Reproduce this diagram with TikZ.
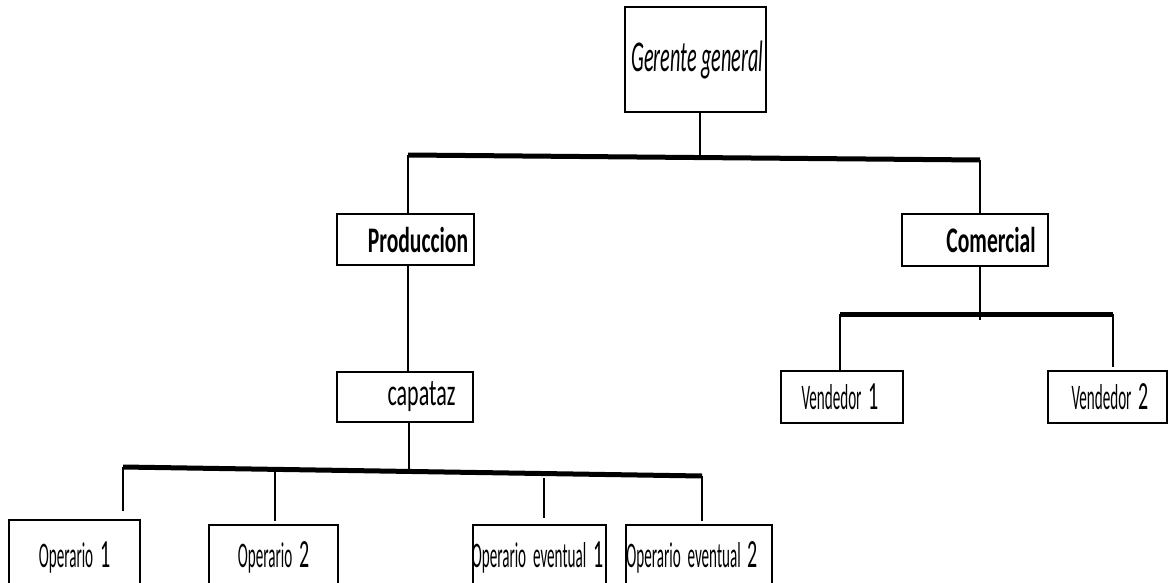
\documentclass[tikz,border=0pt]{standalone}
\usepackage{fontspec}
\newfontfamily\regf[FakeStretch=0.42]{Carlito}
\newfontfamily\digf[FakeStretch=0.5]{Carlito}
\newfontfamily\capf[FakeStretch=0.58]{Carlito}
\newfontfamily\boldf[FakeStretch=0.6]{Carlito Bold}
\newfontfamily\itf[FakeStretch=0.46]{Carlito Italic}
\newcommand{\dg}[1]{{\digf\fontsize{40}{44}\selectfont #1}}
\begin{document}
\begin{tikzpicture}[x=1pt,y=-1pt,
  box/.style={draw=black,line width=2.7pt,inner sep=0pt,fill=white},
  conn/.style={draw=black,line width=2pt},
  bus/.style={draw=black,line width=5pt},
  regtxt/.style={font=\regf\fontsize{36}{40}\selectfont},
  captxt/.style={font=\capf\fontsize{38}{42}\selectfont},
  boldtxt/.style={font=\boldf\fontsize{36}{40}\selectfont},
  ittxt/.style={font=\itf\fontsize{44}{48}\selectfont}]
\clip (0,0) rectangle (1169,583);
\fill[white] (0,0) rectangle (1169,583);
% boxes
\node[box,ittxt,minimum width=141pt,minimum height=105pt] (gg) at (695.5,59.5) {\hspace*{4pt}Gerente general};
\node[box,boldtxt,minimum width=137pt,minimum height=51pt] (prod) at (405.5,239.5) {\hspace*{25pt}Produccion};
\node[box,boldtxt,minimum width=146pt,minimum height=52pt] (com) at (975,240) {\hspace*{32pt}Comercial};
\node[box,captxt,minimum width=136pt,minimum height=50pt] (cap) at (405,397) {\hspace*{33pt}capataz};
\node[box,regtxt,minimum width=131pt,minimum height=75pt] (op1) at (74.5,557.5) {Operario\ \ \dg{1}};
\node[box,regtxt,minimum width=129pt,minimum height=65pt] (op2) at (273.5,557.5) {Operario\ \ \dg{2}};
\node[box,regtxt,minimum width=133pt,minimum height=65pt] (ope1) at (539.5,557.5) {\hspace*{-4pt}Operario\ \ eventual\ \ \dg{1}};
\node[box,regtxt,minimum width=146pt,minimum height=65pt] (ope2) at (699,557.5) {Operario\ \ eventual\ \ \dg{2}\hspace*{14pt}};
\node[box,regtxt,minimum width=122pt,minimum height=52pt] (v1) at (842,397) {Vendedor\ \ \dg{1}\hspace*{4pt}};
\node[box,regtxt,minimum width=119pt,minimum height=52pt] (v2) at (1107.5,397) {\hspace*{5pt}Vendedor\ \ \dg{2}};
% bus coordinates
\coordinate (tl) at (408,155);
\coordinate (tr) at (980,160);
\coordinate (tm) at (700,158.5);
\coordinate (rl) at (840,314);
\coordinate (rr) at (1113,314);
\coordinate (rm) at (980,320);
\coordinate (bl) at (123,467);
\coordinate (br) at (702,476);
\coordinate (bm) at (409,471);
\coordinate (d1) at (123,511);
\coordinate (d2t) at (275,470);
\coordinate (d2) at (275,521);
\coordinate (d3t) at (544,478);
\coordinate (d3) at (544,518);
\coordinate (d4) at (702,521);
\coordinate (v1t) at (840,370);
\coordinate (v2t) at (1113,367);
% connectors
\draw[conn] (tm |- gg.south) -- (tm);
\draw[bus] (tl) -- (tr);
\draw[conn] (tl) -- (tl |- prod.north);
\draw[conn] (tr) -- (tr |- com.north);
\draw[conn] (tl |- prod.south) -- (tl |- cap.north);
\draw[conn] (bm |- cap.south) -- (bm);
\draw[bus] (bl) -- (br);
\draw[conn] (bl) -- (d1);
\draw[conn] (d2t) -- (d2);
\draw[conn] (d3t) -- (d3);
\draw[conn] (br) -- (d4);
\draw[conn] (rm |- com.south) -- (rm);
\draw[bus] (rl) -- (rr);
\draw[conn] (rl) -- (v1t);
\draw[conn] (rr) -- (v2t);
\end{tikzpicture}
\end{document}
